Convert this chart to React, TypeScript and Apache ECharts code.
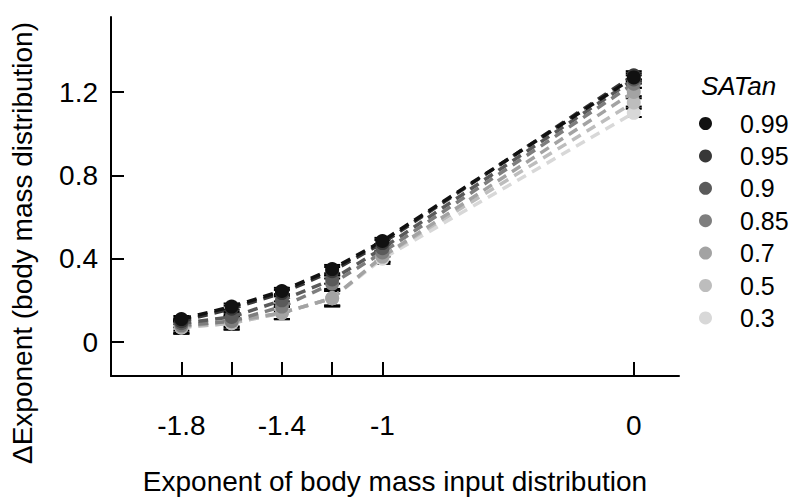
import React, { useEffect, useRef } from "react";
import * as echarts from "echarts";

const xValues = [-1.8, -1.6, -1.4, -1.2, -1, 0];
const xTickValues = [-1.8, -1.6, -1.4, -1.2, -1, 0];
const xLabelValues = [-1.8, -1.4, -1, 0];
const yTickValues = [0, 0.4, 0.8, 1.2];

const seriesNames = ["0.99", "0.95", "0.9", "0.85", "0.7", "0.5", "0.3"];
const seriesColors = ["#111111", "#383838", "#5a5a5a", "#7e7e7e", "#a3a3a3", "#bdbdbd", "#d8d8d8"];

const v099 = [0.11, 0.17, 0.245, 0.35, 0.485, 1.27];
const v095 = [0.1, 0.16, 0.235, 0.34, 0.475, 1.28];
const v090 = [0.09, 0.12, 0.2, 0.3, 0.45, 1.26];
const v085 = [0.08, 0.1, 0.17, 0.28, 0.43, 1.24];
const v070 = [0.075, 0.1, 0.14, 0.21, 0.41, 1.2];
const v050 = [0.07, 0.09, 0.14, 0.21, 0.41, 1.15];
const v030 = [0.07, 0.09, 0.14, 0.21, 0.4, 1.1];

const e099 = [0.015, 0.015, 0.015, 0.02, 0.015, 0.02];
const e095 = [0.015, 0.015, 0.015, 0.02, 0.015, 0.02];
const e090 = [0.02, 0.02, 0.02, 0.02, 0.02, 0.02];
const e085 = [0.025, 0.025, 0.025, 0.025, 0.02, 0.02];
const e070 = [0.03, 0.03, 0.03, 0.04, 0.025, 0.02];
const e050 = [0.03, 0.03, 0.03, 0.035, 0.025, 0.02];
const e030 = [0.03, 0.03, 0.03, 0.035, 0.025, 0.02];

const seriesValues = [v099, v095, v090, v085, v070, v050, v030];
const seriesErrors = [e099, e095, e090, e085, e070, e050, e030];

const FONT = "'Liberation Sans', Arial, Helvetica, sans-serif";
const yTitle = "\u0394Exponent (body mass distribution)";

export default function App() {
  const ref = useRef<HTMLDivElement>(null);
  useEffect(() => {
    if (!ref.current) return;
    const chart = echarts.init(ref.current, null, { renderer: "svg" });

    const series: any[] = [];
    for (let i = seriesNames.length - 1; i >= 0; i--) {
      const data = xValues.map((x, j) => [x, seriesValues[i][j], seriesErrors[i][j]]);
      series.push({
        type: "custom",
        name: seriesNames[i] + "_err",
        z: 1,
        silent: true,
        data,
        renderItem: (params: any, api: any) => {
          const x = api.value(0);
          const y = api.value(1);
          const e = api.value(2);
          const top = api.coord([x, y + e]);
          const bot = api.coord([x, y - e]);
          const w = 8;
          const st = { stroke: "#000", lineWidth: 2 };
          return {
            type: "group",
            children: [
              { type: "line", shape: { x1: top[0], y1: top[1], x2: bot[0], y2: bot[1] }, style: st },
              { type: "line", shape: { x1: top[0] - w, y1: top[1], x2: top[0] + w, y2: top[1] }, style: st },
              { type: "line", shape: { x1: bot[0] - w, y1: bot[1], x2: bot[0] + w, y2: bot[1] }, style: st },
            ],
          };
        },
      });
    }
    for (let i = seriesNames.length - 1; i >= 0; i--) {
      series.push({
        type: "line",
        name: seriesNames[i],
        z: 2,
        data: xValues.map((x, j) => [x, seriesValues[i][j]]),
        symbol: "circle",
        symbolSize: 14,
        showSymbol: true,
        itemStyle: { color: seriesColors[i] },
        lineStyle: { color: seriesColors[i], width: 3.5, type: [10, 7] },
      });
    }

    chart.setOption({
      animation: false,
      backgroundColor: "#fff",
      grid: { left: 111, right: 113, top: 17, bottom: 123, containLabel: false, outerBoundsMode: "none" },
      title: {
        text: "SATan",
        left: 696,
        top: 68,
        textStyle: { fontFamily: FONT, fontSize: 26, fontStyle: "italic", fontWeight: "normal", color: "#000" },
      },
      graphic: [
        {
          type: "text",
          x: 22,
          y: 243,
          rotation: Math.PI / 2,
          style: {
            text: yTitle,
            fontFamily: FONT,
            fontSize: 28,
            fill: "#000",
            align: "center",
            verticalAlign: "middle",
          },
        },
      ],
      legend: {
        data: seriesNames,
        orient: "vertical",
        left: 694,
        top: 106,
        icon: "circle",
        itemWidth: 13,
        itemHeight: 13,
        itemGap: 7.4,
        textStyle: { fontFamily: FONT, fontSize: 25, lineHeight: 25, color: "#000", padding: [0, 0, 0, 23] },
      },
      xAxis: {
        type: "value",
        min: -2.08,
        max: 0.18,
        name: "Exponent of body mass input distribution",
        nameLocation: "middle",
        nameGap: 91,
        nameTextStyle: { fontFamily: FONT, fontSize: 28, color: "#000" },
        splitLine: { show: false },
        axisLine: { onZero: false, lineStyle: { color: "#000", width: 2 } },
        axisTick: { inside: true, length: 14, lineStyle: { color: "#000", width: 2 }, customValues: xTickValues },
        axisLabel: {
          customValues: xLabelValues,
          margin: 35,
          fontFamily: FONT,
          fontSize: 28,
          color: "#000",
          formatter: (v: number) => String(v),
        },
      },
      yAxis: {
        type: "value",
        min: -0.163,
        max: 1.56,
        splitLine: { show: false },
        axisLine: { show: true, onZero: false, lineStyle: { color: "#000", width: 2 } },
        axisTick: { show: true, inside: true, length: 13, lineStyle: { color: "#000", width: 2 }, customValues: yTickValues },
        axisLabel: {
          customValues: yTickValues,
          margin: 13,
          fontFamily: FONT,
          fontSize: 28,
          color: "#000",
          formatter: (v: number) => String(v),
        },
      },
      series,
    });
    return () => chart.dispose();
  }, []);
  return <div ref={ref} style={{ width: 792, height: 499, position: "absolute", left: 0, top: 0 }} />;
}
